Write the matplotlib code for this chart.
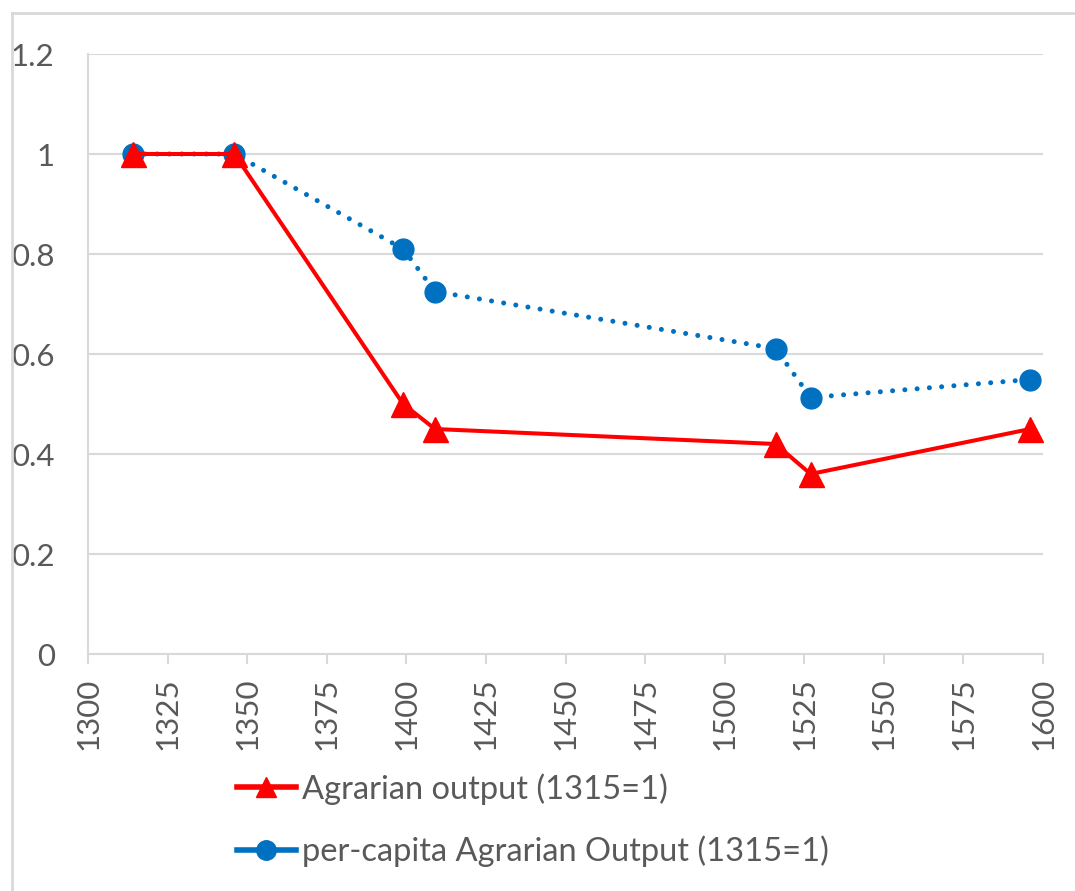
import matplotlib
matplotlib.use('Agg')
import matplotlib.pyplot as plt
from matplotlib.lines import Line2D

# Data
years = [1314, 1346, 1399, 1409, 1516, 1527, 1596]
agrarian_output = [1.0, 1.0, 0.5, 0.45, 0.42, 0.36, 0.45]
per_capita_output = [1.0, 1.0, 0.81, 0.725, 0.611, 0.513, 0.549]

x_ticks = list(range(1300, 1601, 25))
y_ticks = [0, 0.2, 0.4, 0.6, 0.8, 1.0, 1.2]
y_tick_labels = ['0', '0.2', '0.4', '0.6', '0.8', '1', '1.2']

labels = ['Agrarian output (1315=1)', 'per-capita Agrarian Output (1315=1)']

red = '#FF0000'
blue = '#0070C0'
grey = '#D9D9D9'
text_grey = '#595959'

plt.rcParams['font.family'] = ['Lato', 'DejaVu Sans']

W, H = 1075, 891
fig = plt.figure(figsize=(W / 100, H / 100), dpi=100)
ax = fig.add_axes([88 / W, 1 - 654 / H, (1043 - 88) / W, 600 / H])

ax.plot(years, per_capita_output, color=blue, linewidth=3.6,
        linestyle=(0, (0.01, 2.45)), dash_capstyle='round',
        marker='o', markersize=15, zorder=3)
ax.plot(years, agrarian_output, color=red, linewidth=2.9,
        marker='^', markersize=18, zorder=4)

ax.set_xlim(1300, 1600)
ax.set_ylim(0, 1.2)
ax.set_xticks(x_ticks)
ax.set_xticklabels([str(t) for t in x_ticks], rotation=90)
ax.set_yticks(y_ticks)
ax.set_yticklabels(y_tick_labels)

ax.grid(axis='y', color=grey, linewidth=1.5)
ax.set_axisbelow(True)
for side in ['top', 'right']:
    ax.spines[side].set_visible(False)
for side in ['left', 'bottom']:
    ax.spines[side].set_color(grey)
    ax.spines[side].set_linewidth(1.5)

ax.tick_params(axis='x', length=7, width=1.5, color=grey, pad=10,
               labelsize=22.5, labelcolor=text_grey)
ax.tick_params(axis='y', length=0, pad=24, labelsize=22.5, labelcolor=text_grey)

# legend (Excel shows the per-capita series with a solid line in the legend)
handles = [
    Line2D([], [], color=red, linewidth=4, marker='^', markersize=15),
    Line2D([], [], color=blue, linewidth=4, marker='o', markersize=14),
]
fig.legend(handles, labels, loc='upper left',
           bbox_to_anchor=(237 / W, 1 - 773 / H), frameon=False,
           fontsize=23.5, labelcolor=text_grey, handlelength=1.8,
           handletextpad=0.2, labelspacing=0.95, borderpad=0,
           borderaxespad=0)

# outer chart border (partially visible in the reference)
fig.add_artist(Line2D([12 / W, 12 / W], [0, 1 - 13 / H], color=grey, linewidth=2))
fig.add_artist(Line2D([12 / W, 1], [1 - 13 / H, 1 - 13 / H], color=grey, linewidth=2))

fig.savefig('out.png', dpi=100)
